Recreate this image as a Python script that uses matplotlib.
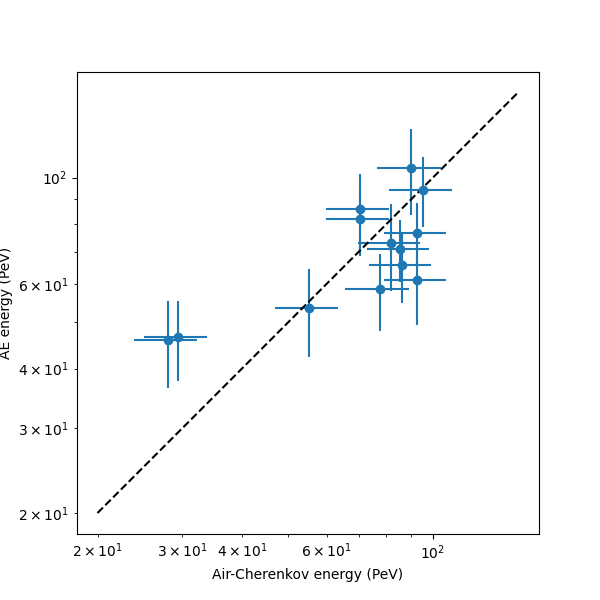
import numpy as np
import matplotlib
matplotlib.use("Agg")
import matplotlib.pyplot as plt

# Air-Cherenkov energy vs AE energy (PeV)
ac_energy = [90.2, 95.2, 70.3, 70.3, 92.6, 81.9, 85.5, 86.2, 92.6, 77.4, 55.1, 28.0, 29.4]
ac_err = [13.9, 14.3, 10.5, 10.5, 13.7, 12.0, 12.7, 12.8, 13.7, 11.7, 8.2, 4.2, 4.4]
ae_energy = [104.8, 94.4, 86.0, 82.0, 76.7, 73.1, 71.0, 65.8, 61.3, 58.6, 53.4, 45.9, 46.5]
ae_err = [21.4, 15.7, 15.5, 13.5, 11.8, 15.0, 10.5, 11.0, 12.0, 10.8, 11.1, 9.5, 8.9]

line_range = [20, 150]

fig, ax = plt.subplots(figsize=(6, 6), dpi=100)
ax.errorbar(ac_energy, ae_energy, xerr=ac_err, yerr=ae_err, fmt='o')
ax.plot(line_range, line_range, 'k--')
ax.set_xscale('log')
ax.set_yscale('log')
ax.set_aspect('equal')
ax.set_xlabel("Air-Cherenkov energy (PeV)")
ax.set_ylabel("AE energy (PeV)")

plt.savefig("out.png")
